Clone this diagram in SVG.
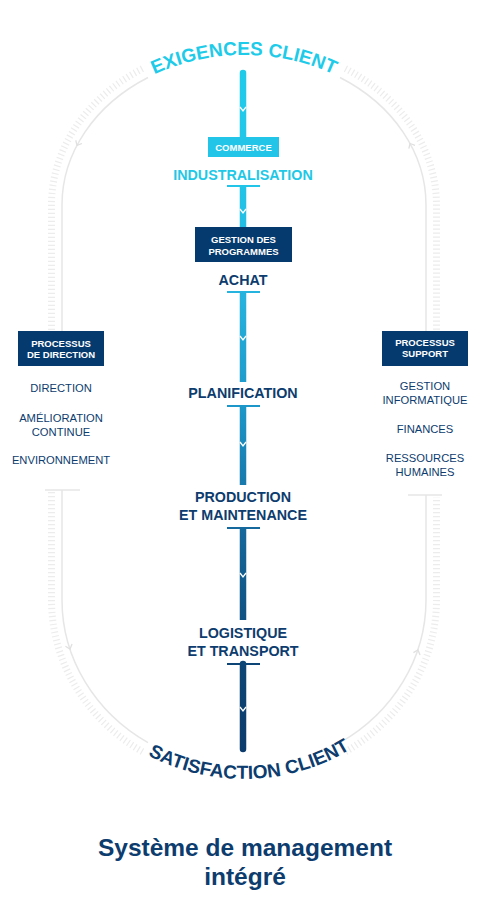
<svg xmlns="http://www.w3.org/2000/svg" width="480" height="920" viewBox="0 0 480 920">
<defs>
<linearGradient id="barGrad" gradientUnits="userSpaceOnUse" x1="0" y1="70" x2="0" y2="752">
<stop offset="0" stop-color="#20cbea"/>
<stop offset="0.17" stop-color="#22c4e8"/>
<stop offset="0.33" stop-color="#25b3de"/>
<stop offset="0.5" stop-color="#1c95c7"/>
<stop offset="0.67" stop-color="#15699d"/>
<stop offset="0.87" stop-color="#0d4676"/>
<stop offset="1" stop-color="#0b3b6c"/>
</linearGradient>
<path id="topArc" d="M62,205 A182,150 0 0 1 426,205"/>
<path id="botArc" d="M51,600 A193,179 0 0 0 437,600"/>
</defs>
<style>
.track{fill:none;stroke:#e6e6e6;stroke-width:1.5}
.ticks{fill:none;stroke:#ececec;stroke-width:7;stroke-dasharray:1.2 2.8}
.arr{fill:none;stroke:#e0e0e0;stroke-width:1.3}
.bar{stroke:url(#barGrad);stroke-width:6.5;fill:none}
.cap{stroke:url(#barGrad);stroke-width:2.2;fill:none}
.notch{stroke:#fff;stroke-width:1.3;fill:none}
.lbl{font-family:"Liberation Sans",Arial,sans-serif;font-weight:bold;font-size:14.3px;text-anchor:middle;fill:#0d3c6e}
.box{fill:#053a6e}
.btx{font-family:"Liberation Sans",Arial,sans-serif;font-weight:bold;font-size:9.5px;text-anchor:middle;fill:#fff}
.item{font-family:"Liberation Sans",Arial,sans-serif;font-size:11.2px;text-anchor:middle;fill:#0d3c6e}
.arc{font-family:"Liberation Sans",Arial,sans-serif;font-weight:bold;font-size:19px}
.title{font-family:"Liberation Sans",Arial,sans-serif;font-weight:bold;font-size:24.5px;text-anchor:middle;fill:#0d3c6e}
</style>
<rect width="480" height="920" fill="#fff"/>

<g id="connectors">
<!-- outer track ticks -->
<path class="ticks" d="M51.5,330 L51.5,205 A192.5,160.5 0 0 1 142.6,68.6"/>
<path class="ticks" d="M345.4,68.6 A192.5,160.5 0 0 1 436.5,205 L436.5,330"/>
<path class="ticks" d="M51.5,492 L51.5,600 A192.5,178.5 0 0 0 142.4,751.7"/>
<path class="ticks" d="M345.6,751.7 A192.5,178.5 0 0 0 436.5,600 L436.5,497"/>
<!-- outer track lines -->
<path class="track" d="M62,331 L62,205 A182,150 0 0 1 148,77.5"/>
<path class="track" d="M340,77.5 A182,150 0 0 1 426,205 L426,331"/>
<path class="track" d="M62,490 L62,600 A182,168 0 0 0 148,742.7"/>
<path class="track" d="M340,742.7 A182,168 0 0 0 426,600 L426,495"/>
<line class="track" x1="45" y1="490" x2="80" y2="490"/>
<line class="track" x1="408" y1="495" x2="442" y2="495"/>
<!-- track arrows -->
<path class="arr" d="M-3.5,-4 L0,0 L3.5,-4" transform="translate(77,145.4) rotate(27.7)"/>
<path class="arr" d="M-3.5,-4 L0,0 L3.5,-4" transform="translate(410,143.5) rotate(151.4)"/>
<path class="arr" d="M-3.5,-4 L0,0 L3.5,-4" transform="translate(70,649) rotate(-18.4)"/>
<path class="arr" d="M-3.5,-4 L0,0 L3.5,-4" transform="translate(418,650) rotate(-161.3)"/>

<!-- central flow bar -->
<line class="bar" x1="243" y1="73" x2="243" y2="137" stroke-linecap="round"/>
<line class="bar" x1="243" y1="186" x2="243" y2="227"/>
<line class="bar" x1="243" y1="292" x2="243" y2="382"/>
<line class="bar" x1="243" y1="406" x2="243" y2="485"/>
<line class="bar" x1="243" y1="528" x2="243" y2="620"/>
<line class="bar" x1="243" y1="664" x2="243" y2="749" stroke-linecap="round"/>
<line class="cap" x1="227" y1="186" x2="260" y2="186"/>
<line class="cap" x1="227" y1="292" x2="260" y2="292"/>
<line class="cap" x1="227" y1="406" x2="260" y2="406"/>
<line class="cap" x1="227" y1="528" x2="260" y2="528"/>
<line class="cap" x1="227" y1="664" x2="260" y2="664"/>
<path class="notch" d="M240,107 L243,111 L246,107"/>
<path class="notch" d="M240,209 L243,213 L246,209"/>
<path class="notch" d="M240,336 L243,340 L246,336"/>
<path class="notch" d="M240,442 L243,446 L246,442"/>
<path class="notch" d="M240,573 L243,577 L246,573"/>
<path class="notch" d="M240,707 L243,711 L246,707"/>
</g>

<g id="exigences-client">
<text class="arc" fill="#1ecbe9"><textPath href="#topArc" startOffset="50%" text-anchor="middle">EXIGENCES CLIENT</textPath></text>
</g>

<g id="commerce">
<rect x="208" y="137" width="71" height="20" fill="#22c4e8"/>
<text class="btx" x="243.5" y="150.5">COMMERCE</text>
</g>

<g id="industralisation">
<text class="lbl" x="243" y="180" style="fill:#1ec8e6">INDUSTRALISATION</text>
</g>

<g id="gestion-programmes">
<rect class="box" x="195" y="227" width="97" height="35"/>
<text class="btx" x="243.5" y="242.5">GESTION DES</text>
<text class="btx" x="243.5" y="254.5">PROGRAMMES</text>
</g>

<g id="achat">
<text class="lbl" x="243" y="285">ACHAT</text>
</g>

<g id="planification">
<text class="lbl" x="243" y="398">PLANIFICATION</text>
</g>

<g id="production">
<text class="lbl" x="243" y="502">PRODUCTION</text>
<text class="lbl" x="243" y="520">ET MAINTENANCE</text>
</g>

<g id="logistique">
<text class="lbl" x="243" y="638">LOGISTIQUE</text>
<text class="lbl" x="243" y="656">ET TRANSPORT</text>
</g>

<g id="satisfaction-client">
<text class="arc" fill="#0d3c6e"><textPath href="#botArc" startOffset="51%" text-anchor="middle">SATISFACTION CLIENT</textPath></text>
</g>

<g id="processus-direction">
<rect class="box" x="18" y="331" width="86" height="35"/>
<text class="btx" x="61" y="346.5">PROCESSUS</text>
<text class="btx" x="61" y="357.5">DE DIRECTION</text>
<text class="item" x="61" y="392">DIRECTION</text>
<text class="item" x="61" y="422">AMÉLIORATION</text>
<text class="item" x="61" y="436">CONTINUE</text>
<text class="item" x="61" y="464">ENVIRONNEMENT</text>
</g>

<g id="processus-support">
<rect class="box" x="382" y="331" width="86" height="35"/>
<text class="btx" x="425" y="345.5">PROCESSUS</text>
<text class="btx" x="425" y="356.5">SUPPORT</text>
<text class="item" x="425" y="390">GESTION</text>
<text class="item" x="425" y="404">INFORMATIQUE</text>
<text class="item" x="425" y="433">FINANCES</text>
<text class="item" x="425" y="462">RESSOURCES</text>
<text class="item" x="425" y="476">HUMAINES</text>
</g>

<g id="title">
<text class="title" x="245" y="856">Système de management</text>
<text class="title" x="245" y="885">intégré</text>
</g>
</svg>
